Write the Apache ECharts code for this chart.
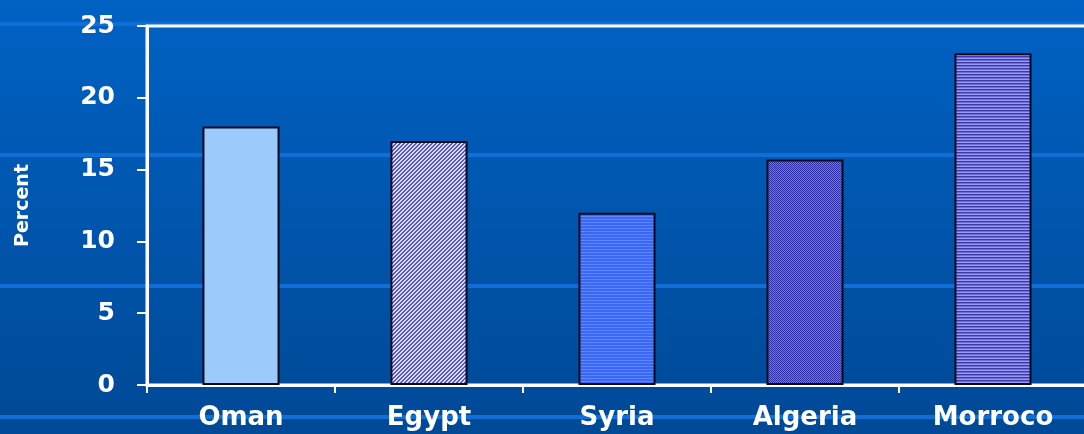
<!DOCTYPE html>
<html>
<head>
<meta charset="utf-8">
<script src="https://cdn.jsdelivr.net/npm/echarts@6/dist/echarts.min.js"></script>
<style>
  html, body { margin: 0; padding: 0; }
  body { width: 1084px; height: 434px; overflow: hidden; background: #0058b0; }
  #chart { width: 1084px; height: 434px; }
</style>
</head>
<body>
<div id="chart"></div>
<script>
// Share of population, by country (percent)
const categories = ['Oman', 'Egypt', 'Syria', 'Algeria', 'Morroco'];
const values = [18, 17, 12, 15.7, 23.1];
const yTicks = [0, 5, 10, 15, 20, 25];

// Small tiled canvases used as hatched bar fills
function tile(w, h, paint) {
  const c = document.createElement('canvas');
  c.width = w; c.height = h;
  paint(c.getContext('2d'));
  return { image: c, repeat: 'repeat' };
}
const fills = [
  '#9ccbfb',
  tile(4, 4, g => {            // diagonal stripes rising to the right
    g.fillStyle = '#5858bc'; g.fillRect(0, 0, 4, 4);
    g.fillStyle = '#dcdcff';
    for (let y = 0; y < 4; y++) {
      for (let x = 0; x < 4; x++) {
        if ((x + y) % 4 < 2) g.fillRect(x, y, 1, 1);
      }
    }
  }),
  tile(2, 3, g => {            // fine horizontal lines
    g.fillStyle = '#3a68f4'; g.fillRect(0, 0, 2, 3);
    g.fillStyle = '#5b86ff'; g.fillRect(0, 0, 2, 1);
  }),
  tile(2, 2, g => {            // checker
    g.fillStyle = '#7474e0'; g.fillRect(0, 0, 2, 2);
    g.fillStyle = '#2e2ea6'; g.fillRect(0, 0, 1, 1); g.fillRect(1, 1, 1, 1);
  }),
  tile(2, 3, g => {            // horizontal lines
    g.fillStyle = '#6c6cd8'; g.fillRect(0, 0, 2, 3);
    g.fillStyle = '#9a9af0'; g.fillRect(0, 1, 2, 1);
    g.fillStyle = '#3a3aa8'; g.fillRect(0, 2, 2, 1);
  })
];

// Decorative backdrop stripes
const stripeRows = [22, 153, 284, 415];
const backdrop = stripeRows.map(y => ({
  type: 'rect', left: 0, top: y, z: -10, silent: true,
  shape: { width: 1084, height: 4 },
  style: { fill: '#0f6fd6' }
}));

const chart = echarts.init(document.getElementById('chart'));
chart.setOption({
  backgroundColor: {
    type: 'linear', x: 0, y: 0, x2: 0, y2: 1,
    colorStops: [{ offset: 0, color: '#0062c4' }, { offset: 1, color: '#004996' }]
  },
  graphic: backdrop,
  grid: {
    left: 147, top: 26, right: -3, bottom: 49,
    show: true, borderColor: '#ffffff', borderWidth: 3,
    outerBoundsMode: 'none'
  },
  xAxis: {
    type: 'category',
    data: categories,
    axisLine: { lineStyle: { color: '#ffffff', width: 3 } },
    axisTick: { show: true, length: 8, lineStyle: { color: '#ffffff', width: 2 } },
    axisLabel: {
      color: '#ffffff', fontFamily: 'DejaVu Sans', fontWeight: 'bold',
      fontSize: 26, margin: 20
    }
  },
  yAxis: {
    type: 'value',
    min: yTicks[0], max: yTicks[yTicks.length - 1], interval: 5,
    name: 'Percent',
    nameLocation: 'middle',
    nameGap: 114,
    nameRotate: 90,
    nameTextStyle: { color: '#ffffff', fontFamily: 'DejaVu Sans', fontWeight: 'bold', fontSize: 19 },
    axisLine: { show: true, lineStyle: { color: '#ffffff', width: 3 } },
    axisTick: { show: true, length: 10, lineStyle: { color: '#ffffff', width: 2 } },
    splitLine: { show: false },
    axisLabel: {
      color: '#ffffff', fontFamily: 'DejaVu Sans', fontWeight: 'bold',
      fontSize: 25, margin: 32
    }
  },
  series: [{
    type: 'bar',
    barWidth: '41%',
    data: values.map((v, i) => ({
      value: v,
      itemStyle: { color: fills[i], borderColor: '#0a0a1e', borderWidth: 2 }
    })),
    animation: false
  }]
});
</script>
</body>
</html>
